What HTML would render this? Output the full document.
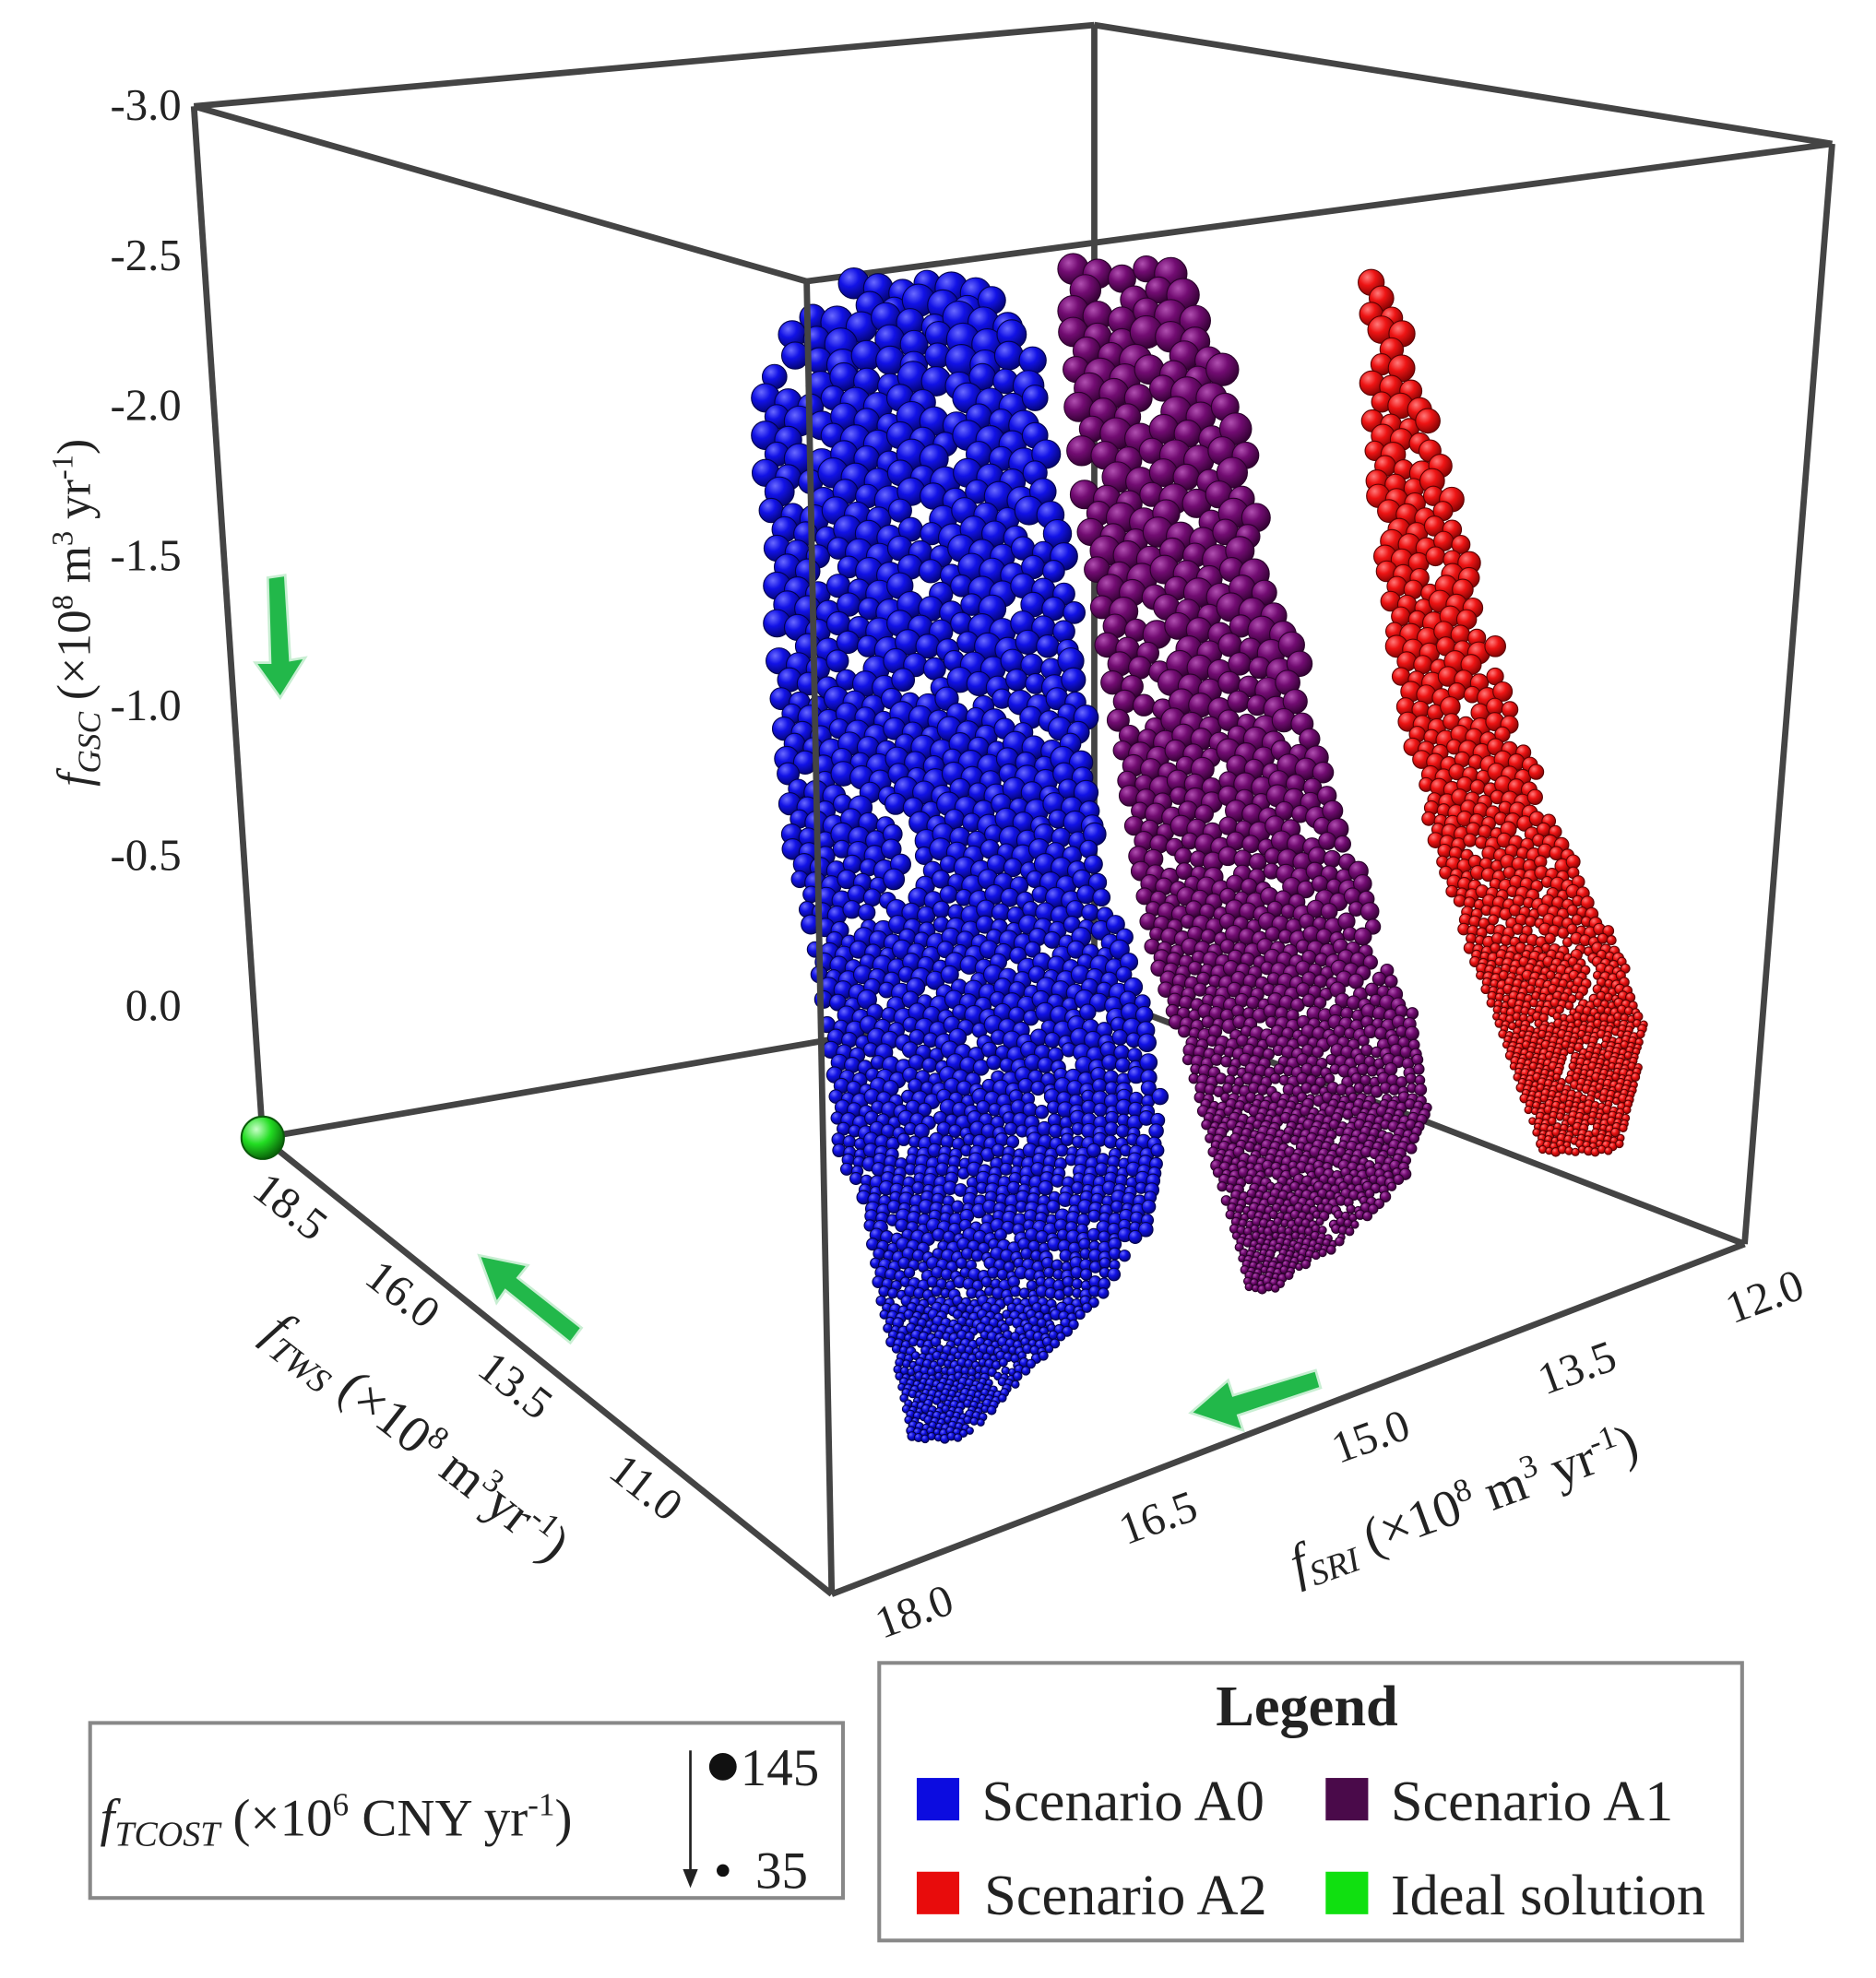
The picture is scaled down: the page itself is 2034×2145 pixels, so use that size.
<!DOCTYPE html>
<html><head><meta charset="utf-8">
<style>
html,body{margin:0;padding:0;background:#fff;}
svg{display:block;}
text{font-family:"Liberation Serif","Times New Roman",serif;fill:#222;}
</style></head>
<body>
<svg id="chart" width="2034" height="2145" viewBox="0 0 1500 1582" xmlns="http://www.w3.org/2000/svg">
<defs>
<radialGradient id="g-blue" cx="35%" cy="30%" r="70%"><stop offset="0" stop-color="#6a6aff"/><stop offset="0.45" stop-color="#1212e6"/><stop offset="1" stop-color="#05057a"/></radialGradient>
<radialGradient id="g-purple" cx="35%" cy="30%" r="70%"><stop offset="0" stop-color="#b050b0"/><stop offset="0.45" stop-color="#720c72"/><stop offset="1" stop-color="#360236"/></radialGradient>
<radialGradient id="g-red" cx="35%" cy="30%" r="70%"><stop offset="0" stop-color="#ff7a7a"/><stop offset="0.45" stop-color="#ee1414"/><stop offset="1" stop-color="#8a0404"/></radialGradient>
<radialGradient id="g-green" cx="35%" cy="30%" r="70%"><stop offset="0" stop-color="#c8ffc8"/><stop offset="0.5" stop-color="#22dd22"/><stop offset="1" stop-color="#0a6a0a"/></radialGradient>
</defs>
<g id="back-box" stroke="#444" stroke-width="5" fill="none">
<line x1="155" y1="85" x2="875" y2="20"/>
<line x1="875" y1="20" x2="1465" y2="115"/>
<line x1="155" y1="85" x2="645" y2="225"/>
<line x1="645" y1="225" x2="1465" y2="115"/>
<line x1="155" y1="85" x2="210" y2="910"/>
<line x1="1465" y1="115" x2="1395" y2="995"/>
<line x1="875" y1="20" x2="875" y2="795"/>
<line x1="210" y1="910" x2="875" y2="795"/>
<line x1="875" y1="795" x2="1395" y2="995"/>
</g>
<g id="points"></g>
<g id="front-box" stroke="#444" stroke-width="5" fill="none">
<line x1="645" y1="225" x2="665" y2="1275"/>
<line x1="210" y1="910" x2="665" y2="1275"/>
<line x1="665" y1="1275" x2="1395" y2="995"/>
</g>
<circle cx="210" cy="910" r="17" fill="url(#g-green)" stroke="#0a5a0a" stroke-width="1.5"/>
<g id="labels" font-size="36"></g>
<text transform="translate(72,490) rotate(-90)" text-anchor="middle" font-size="38"><tspan font-style="italic">f</tspan><tspan font-style="italic" font-size="26" dy="8">GSC</tspan><tspan dy="-8"> (×10</tspan><tspan font-size="24" dy="-14">8</tspan><tspan dy="14"> m</tspan><tspan font-size="24" dy="-14">3</tspan><tspan dy="14"> yr</tspan><tspan font-size="24" dy="-14">-1</tspan><tspan dy="14">)</tspan></text>
<text transform="translate(325,1160) rotate(38)" text-anchor="middle" font-size="42"><tspan font-style="italic">f</tspan><tspan font-style="italic" font-size="28" dy="8">TWS</tspan><tspan dy="-8"> (×10</tspan><tspan font-size="26" dy="-15">8</tspan><tspan dy="15"> m</tspan><tspan font-size="26" dy="-15">3</tspan><tspan dy="15">yr</tspan><tspan font-size="26" dy="-15">-1</tspan><tspan dy="15">)</tspan></text>
<text transform="translate(1175,1215) rotate(-20)" text-anchor="middle" font-size="42"><tspan font-style="italic">f</tspan><tspan font-style="italic" font-size="28" dy="8">SRI</tspan><tspan dy="-8"> (×10</tspan><tspan font-size="26" dy="-15">8</tspan><tspan dy="15"> m</tspan><tspan font-size="26" dy="-15">3</tspan><tspan dy="15"> yr</tspan><tspan font-size="26" dy="-15">-1</tspan><tspan dy="15">)</tspan></text>
<g fill="#22b84a" stroke="#c8eed2" stroke-width="2">
<polygon points="214,462 228,460 232,528 244,526 224,558 204,530 216,530"/>
<polygon points="465,1062 456,1074 404,1032 397,1042 383,1004 422,1012 414,1022"/>
<polygon points="1052,1096 1056,1110 990,1132 994,1144 952,1130 982,1104 986,1116"/>
</g>
<g>
<rect x="72" y="1378" width="602" height="140" fill="#fff" stroke="#888" stroke-width="3"/>
<text x="80" y="1468" font-size="42"><tspan font-style="italic">f</tspan><tspan font-style="italic" font-size="28" dy="8">TCOST</tspan><tspan dy="-8"> (×10</tspan><tspan font-size="26" dy="-16">6</tspan><tspan dy="16"> CNY yr</tspan><tspan font-size="26" dy="-16">-1</tspan><tspan dy="16">)</tspan></text>
<line x1="552" y1="1400" x2="552" y2="1505" stroke="#222" stroke-width="2"/>
<polygon points="546,1495 558,1495 552,1510" fill="#222"/>
<circle cx="578" cy="1413" r="11" fill="#111"/>
<text x="592" y="1428" font-size="42">145</text>
<circle cx="578" cy="1496" r="5" fill="#111"/>
<text x="604" y="1510" font-size="42">35</text>
</g>
<g>
<rect x="703" y="1330" width="690" height="222" fill="#fff" stroke="#888" stroke-width="3"/>
<text x="1045" y="1380" text-anchor="middle" font-size="46" font-weight="bold">Legend</text>
<g><rect x="733" y="1422" width="34" height="34" fill="#0c0ce0"/><text x="785" y="1456" font-size="46">Scenario A0</text></g>
<g><rect x="1060" y="1422" width="34" height="34" fill="#4a0a4a"/><text x="1112" y="1456" font-size="46">Scenario A1</text></g>
<g><rect x="733" y="1497" width="34" height="34" fill="#e80c0c"/><text x="787" y="1531" font-size="46">Scenario A2</text></g>
<g><rect x="1060" y="1497" width="34" height="34" fill="#10e010"/><text x="1112" y="1531" font-size="46">Ideal solution</text></g>
</g>
</svg>
<script>
// ---- data: band rows per scenario (fGSC level, fSRI extent, fTCOST size) ----
const a0Gsc = [-3.23,-3.06,-2.85,-2.60,-2.35,-2.10,-1.85,-1.60,-1.35,-1.10,-0.85,-0.60,-0.35,-0.10,0.15,0.40,0.60];
const a0SriLeft = [16.43,16.87,17.05,17.05,16.96,16.96,16.92,16.87,16.83,16.69,16.60,16.51,16.47,16.25,16.16,16.02,15.93];
const a0SriRight = [15.35,14.96,14.91,14.82,14.73,14.64,14.59,14.55,14.51,14.37,14.19,14.10,14.06,14.20,14.55,15.09,15.49];
const a0Cost = [145,145,133,133,121,121,108,108,96,84,84,72,60,60,47,35,35];
const a0Tws = 13.0;
const a1Gsc = [-3.43,-3.22,-2.97,-2.68,-2.43,-2.18,-1.93,-1.68,-1.43,-1.18,-0.93,-0.68,-0.43,-0.22,-0.05];
const a1SriLeft = [15.27,15.27,15.23,15.18,15.09,15.01,14.92,14.83,14.74,14.65,14.47,14.29,14.16,14.02,13.93];
const a1SriRight = [14.34,14.11,13.93,13.80,13.71,13.53,13.35,13.22,13.04,12.86,12.68,12.59,12.73,13.18,13.67];
const a1Cost = [145,145,145,133,133,121,108,96,84,72,60,47,47,35,35];
const a1Tws = 12.0;
const a2Gsc = [-3.54,-3.33,-3.08,-2.83,-2.58,-2.33,-2.08,-1.83,-1.58,-1.33,-1.08,-0.83,-0.66];
const a2SriLeft = [13.53,13.53,13.51,13.47,13.40,13.33,13.24,13.13,12.95,12.77,12.55,12.37,12.24];
const a2SriRight = [13.25,13.10,12.95,12.80,12.66,12.50,12.35,12.15,11.90,11.65,11.45,11.55,11.65];
const a2Cost = [121,121,108,108,96,96,84,72,60,47,35,35,35];
const a2Tws = 11.0;
const gscTicks = ["-3.0","-2.5","-2.0","-1.5","-1.0","-0.5","0.0"];
const gscTickVals = [-3.0,-2.5,-2.0,-1.5,-1.0,-0.5,0.0];
const twsTicks = ["18.5","16.0","13.5","11.0"];
const sriTicks = ["18.0","16.5","15.0","13.5","12.0"];

// ---- axis / projection functions ----
function px(sri, tws){ return 210 + (18.3 - sri)*112 + (18.5 - tws)*45.5; }
function py(gsc, tws){ return 805 + gsc*240 + (18.5 - tws)*36.5; }
function rad(cost){ return 3.5 + (cost - 35)*9.5/110; }

const NS = "http://www.w3.org/2000/svg";
const pts = document.getElementById('points');
function drawScenario(gsc, sL, sR, cost, tws, fill, stroke, name){
  const g = document.createElementNS(NS,'g');
  
  
  pts.appendChild(g);
  let idx = 0;
  for(let i=0;i<gsc.length;i++){
    const j = Math.min(i+1, gsc.length-1);
    const y0 = py(gsc[i],tws), y1 = py(gsc[j],tws);
    const r0 = rad(cost[i]);
    const n = (j===i) ? 1 : Math.max(1, Math.round((y1-y0)/(r0*1.25)));
    for(let k=0;k<n;k++){
      const t = k/n;
      const y = y0 + (y1-y0)*t;
      const xl = px(sL[i],tws) + (px(sL[j],tws)-px(sL[i],tws))*t;
      const xr = px(sR[i],tws) + (px(sR[j],tws)-px(sR[i],tws))*t;
      const r = r0 + (rad(cost[j])-r0)*t;
      const step = r*1.5;
      let x = xl + r + ((k%2)? step/2 : 0);
      let m = 0;
      while(x <= xr - r*0.5){
        idx++;
        if(idx % 19 !== 7){
          const c = document.createElementNS(NS,'circle');
          
          
          c.setAttribute('cx', x.toFixed(1));
          c.setAttribute('cy', (y + ((m%3)-1)*r*0.3).toFixed(1));
          c.setAttribute('r', (r*(1 - (idx%5)*0.05)).toFixed(1));
          c.setAttribute('fill', fill);
          c.setAttribute('stroke', stroke);
          c.setAttribute('stroke-width', '0.8');
          g.appendChild(c);
        }
        x += step; m++;
      }
    }
  }
}
drawScenario(a0Gsc,a0SriLeft,a0SriRight,a0Cost,a0Tws,'url(#g-blue)','#03034a','scenario-a0-points');
drawScenario(a1Gsc,a1SriLeft,a1SriRight,a1Cost,a1Tws,'url(#g-purple)','#2a022a','scenario-a1-points');
drawScenario(a2Gsc,a2SriLeft,a2SriRight,a2Cost,a2Tws,'url(#g-red)','#5a0202','scenario-a2-points');

// ---- tick labels ----
const lab = document.getElementById('labels');
function addText(x,y,txt,anchor,rot,name){
  const t = document.createElementNS(NS,'text');
  
  
  t.setAttribute('text-anchor', anchor);
  t.setAttribute('transform', 'translate('+x+','+y+') rotate('+rot+')');
  t.textContent = txt;
  lab.appendChild(t);
}
gscTicks.forEach((s,i)=>{
  const y = 85 + (gscTickVals[i]+3.0)*240;
  addText(145, y+11, s, 'end', 0, 'gsc-tick-label');
});
const twsPos = [[200,955],[290,1025],[380,1098],[485,1180]];
twsTicks.forEach((s,i)=> addText(twsPos[i][0], twsPos[i][1], s, 'start', 38, 'tws-tick-label'));
const sriPos = [[735,1300],[930,1225],[1100,1160],[1265,1105],[1415,1048]];
sriTicks.forEach((s,i)=> addText(sriPos[i][0], sriPos[i][1], s, 'middle', -20, 'sri-tick-label'));
</script>
</body></html>
